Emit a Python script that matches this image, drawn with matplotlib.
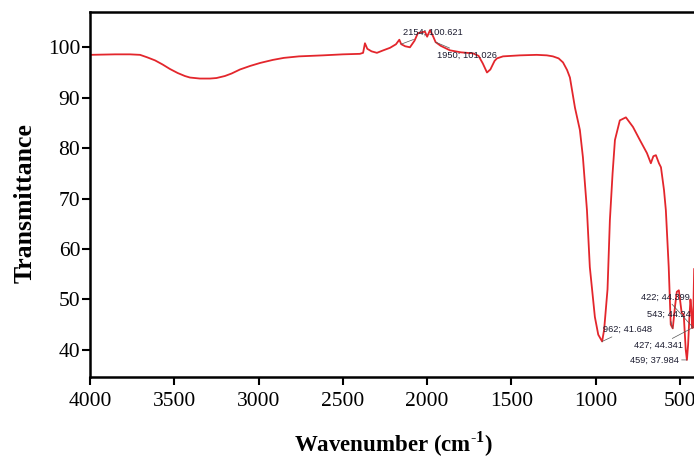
import matplotlib.pyplot as plt
import numpy as np

plt.rcParams['font.family'] = 'Liberation Serif'
plt.rcParams['mathtext.fontset'] = 'custom'
plt.rcParams['mathtext.rm'] = 'Liberation Serif'
plt.rcParams['mathtext.bf'] = 'Liberation Serif:bold'

# FTIR spectrum, wavenumber (cm-1) vs transmittance (%)
wavenumber = [4000, 3850, 3763, 3703, 3660, 3614, 3570, 3526, 3480, 3437, 3407,
              3348, 3288, 3250, 3200, 3160, 3110, 3050, 2990, 2915, 2850,
              2760, 2618, 2500, 2399, 2380, 2369, 2355, 2330, 2298, 2260,
              2220, 2185, 2165, 2154, 2130, 2102, 2075, 2055, 2030, 2013,
              2000, 1983, 1965, 1950, 1920, 1865, 1800, 1728, 1695, 1670,
              1645, 1625, 1600, 1586, 1550, 1450, 1350, 1290, 1254, 1220,
              1194, 1170, 1153, 1123, 1094, 1076, 1052, 1035, 1005, 985,
              962, 950, 930, 916, 900, 886, 857, 821, 779, 738, 696, 673,
              658, 643, 625, 613, 595, 584, 567, 555, 543, 530, 519, 507,
              490, 478, 466, 459, 452, 445, 438, 432, 427, 424, 422, 419, 416]
transmittance = [98.5, 98.6, 98.6, 98.5, 98.0, 97.4, 96.6, 95.7, 94.9, 94.3, 94.0,
                 93.8, 93.8, 93.9, 94.3, 94.8, 95.6, 96.3, 96.9, 97.5, 97.9,
                 98.2, 98.4, 98.6, 98.7, 98.9, 100.8, 99.7, 99.2, 98.9, 99.4,
                 99.9, 100.6, 101.5, 100.62, 100.2, 100.0, 101.3, 102.8, 103.0, 103.1,
                 102.1, 103.4, 102.2, 101.03, 100.3, 99.4, 99.0, 98.8, 98.3, 96.8,
                 95.0, 95.6, 97.3, 97.8, 98.2, 98.4, 98.5, 98.4, 98.2, 97.8,
                 97.0, 95.5, 94.0, 88.0, 83.6, 78.2, 67.7, 56.4, 46.5, 43.0,
                 41.648, 44.0, 52.0, 65.7, 75.0, 81.6, 85.5, 86.1, 84.2, 81.6, 79.0, 77.0,
                 78.4, 78.6, 77.0, 76.2, 71.7, 67.7, 56.4, 45.0, 44.24, 48.5, 51.5, 51.8,
                 47.3, 47.0, 40.0, 37.984, 41.0, 46.0, 50.0, 48.0, 44.341, 46.5, 44.399, 51.0, 56.0]

# peak labels: (wavenumber, transmittance, text x, text y)
peak_labels = [
    (2154, 100.621, 2144, 103.0),
    (1950, 101.026, 1942, 98.4),
    (962, 41.648, 957, 44.0),
    (422, 44.399, 732, 50.5),
    (543, 44.24, 696, 47.1),
    (427, 44.341, 773, 40.8),
    (459, 37.984, 797, 38.0),
]

fig = plt.figure(figsize=(6.94, 4.59), dpi=100)
ax = fig.add_axes([90 / 694, 1 - 377 / 459, 1 - 90 / 694, 365 / 459])

ax.plot(wavenumber, transmittance, color='#e3262c', lw=1.3)

for wn, t, tx, ty in peak_labels:
    ax.annotate(f'{wn}; {t}', xy=(wn, t), xytext=(tx, ty),
                fontsize=6.7, family='Liberation Sans', color='#1c1c30',
                va='center', ha='left',
                arrowprops=dict(arrowstyle='-', lw=0.5, color='#555555',
                                shrinkA=0, shrinkB=0))

ax.set_xlim(4000, 417)
ax.set_ylim(34.6, 107)
ax.set_xticks(np.arange(4000, 499, -500))
ax.set_yticks(np.arange(40, 101, 10))

for side in ['left', 'bottom', 'top']:
    ax.spines[side].set_linewidth(1.8)
ax.spines['right'].set_visible(False)
ax.tick_params(direction='out', length=6, width=1.5, labelsize=15.5)
ax.tick_params(axis='y', pad=1)
ax.tick_params(axis='x', pad=5)

ax.set_xlabel(r'Wavenumber (cm$^{\text{-}\mathbf{1}}$)', fontsize=16.5, fontweight='bold')
ax.set_ylabel('Transmittance', fontsize=18.5, fontweight='bold')
ax.xaxis.set_label_coords(0.502, -0.145)
ax.yaxis.set_label_coords(-0.088, 0.477)

fig.savefig('out.png', dpi=100)
